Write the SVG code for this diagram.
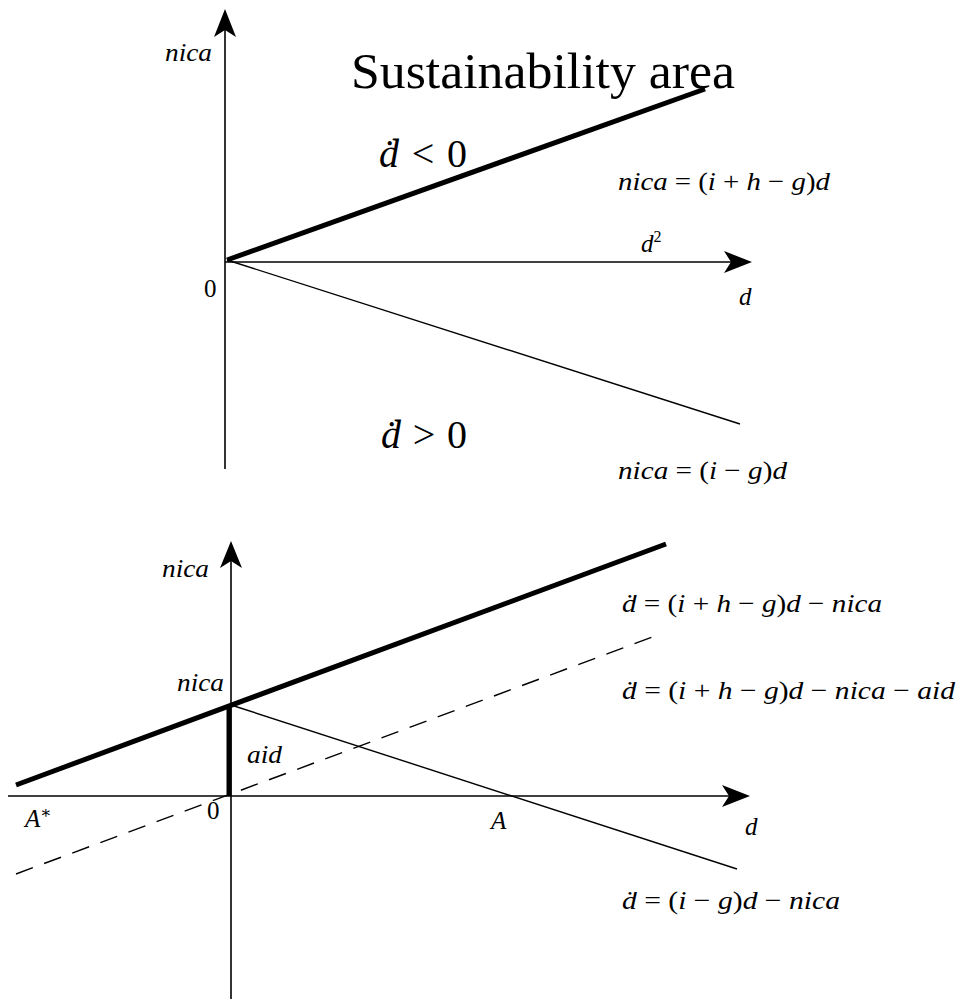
<svg xmlns="http://www.w3.org/2000/svg" width="958" height="999" viewBox="0 0 958 999">
<defs>
<style>
text{font-family:"Liberation Serif","DejaVu Serif",serif;fill:#000}
.m{font-style:italic}
.u{font-style:normal}
.eq{font-size:26px}
.ax{stroke:#000;stroke-width:1.6;fill:none}
.thin{stroke:#000;stroke-width:1.4;fill:none}
.thick{stroke:#000;stroke-width:5;fill:none}
.dash{stroke:#000;stroke-width:1.4;fill:none;stroke-dasharray:18,12}
.ah{fill:#000;stroke:none}
</style>
</defs>
<rect width="958" height="999" fill="#fff"/>
<g id="connectors">
<line class="ax" x1="225" y1="469" x2="225" y2="28"/>
<path class="ah" d="M225,9 L236,37 L225,30 L214,37 Z"/>
<line class="ax" x1="225" y1="262" x2="735" y2="262"/>
<path class="ah" d="M752,262 L724,251 L731,262 L724,273 Z"/>
<line class="thick" x1="227" y1="260" x2="705" y2="89"/>
<line class="thin" x1="227" y1="260" x2="740" y2="424"/>
<line class="ax" x1="231" y1="999" x2="231" y2="560"/>
<path class="ah" d="M231,541 L242,568 L231,561 L220,568 Z"/>
<line class="ax" x1="8" y1="796" x2="733" y2="796"/>
<path class="ah" d="M750,796 L722,785 L729,796 L722,807 Z"/>
<line class="thick" x1="16" y1="785" x2="666" y2="544"/>
<line class="thin" x1="231" y1="705" x2="737" y2="869"/>
<line class="dash" x1="16" y1="874" x2="655" y2="636"/>
<line class="thick" x1="229" y1="705" x2="229" y2="796"/>
</g>
<g id="top-labels">
<text class="m" x="165" y="61" font-size="25" textLength="47" lengthAdjust="spacingAndGlyphs">nica</text>
<text x="351" y="88" font-size="50" textLength="384" lengthAdjust="spacingAndGlyphs">Sustainability area</text>
<text x="379" y="167" font-size="40" textLength="88" lengthAdjust="spacing"><tspan class="m">ḋ</tspan> &lt; 0</text>
<text class="eq" x="618" y="190" textLength="212" lengthAdjust="spacingAndGlyphs"><tspan class="m">nica</tspan> = (<tspan class="m">i</tspan> + <tspan class="m">h</tspan> − <tspan class="m">g</tspan>)<tspan class="m">d</tspan></text>
<text class="m" x="641" y="252" font-size="25">d<tspan class="u" font-size="16" dy="-10">2</tspan></text>
<text x="204" y="297" font-size="25">0</text>
<text class="m" x="739" y="305" font-size="25">d</text>
<text x="381" y="448" font-size="40" textLength="86" lengthAdjust="spacing"><tspan class="m">ḋ</tspan> &gt; 0</text>
<text class="eq" x="618" y="479" textLength="169" lengthAdjust="spacingAndGlyphs"><tspan class="m">nica</tspan> = (<tspan class="m">i</tspan> − <tspan class="m">g</tspan>)<tspan class="m">d</tspan></text>
</g>
<g id="bottom-labels">
<text class="m" x="162" y="577" font-size="25" textLength="47" lengthAdjust="spacingAndGlyphs">nica</text>
<text class="eq" x="622" y="612" textLength="260" lengthAdjust="spacingAndGlyphs"><tspan class="m">ḋ</tspan> = (<tspan class="m">i</tspan> + <tspan class="m">h</tspan> − <tspan class="m">g</tspan>)<tspan class="m">d</tspan> − <tspan class="m">nica</tspan></text>
<text class="m" x="177" y="691" font-size="25" textLength="47" lengthAdjust="spacingAndGlyphs">nica</text>
<text class="eq" x="622" y="699" textLength="333" lengthAdjust="spacingAndGlyphs"><tspan class="m">ḋ</tspan> = (<tspan class="m">i</tspan> + <tspan class="m">h</tspan> − <tspan class="m">g</tspan>)<tspan class="m">d</tspan> − <tspan class="m">nica</tspan> − <tspan class="m">aid</tspan></text>
<text class="m" x="247" y="763" font-size="25" textLength="35" lengthAdjust="spacingAndGlyphs">aid</text>
<text class="m" x="25" y="827" font-size="25">A<tspan class="u" font-size="17" dy="-9">∗</tspan></text>
<text x="207" y="819" font-size="25">0</text>
<text class="m" x="491" y="829" font-size="25">A</text>
<text class="m" x="745" y="835" font-size="25">d</text>
<text class="eq" x="622" y="909" textLength="218" lengthAdjust="spacingAndGlyphs"><tspan class="m">ḋ</tspan> = (<tspan class="m">i</tspan> − <tspan class="m">g</tspan>)<tspan class="m">d</tspan> − <tspan class="m">nica</tspan></text>
</g>
</svg>
